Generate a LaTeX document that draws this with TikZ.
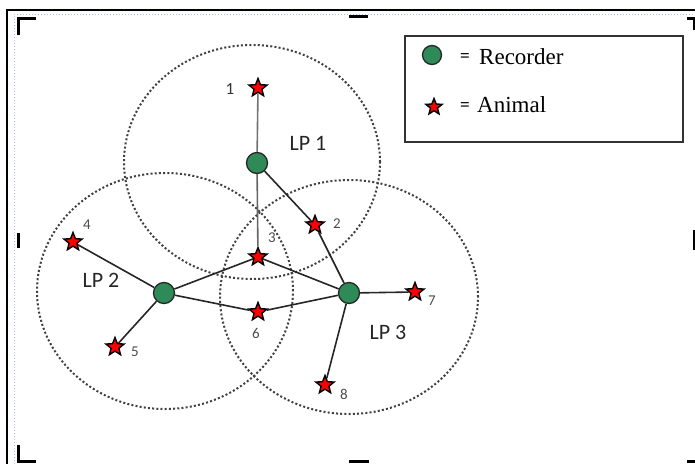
\documentclass[tikz,border=0pt]{standalone}
\usepackage{fontspec}
\setmainfont{Liberation Serif}
\newfontfamily\lpfont{Carlito}
\usetikzlibrary{shapes.geometric}
\definecolor{recgreen}{RGB}{46,139,87}
\definecolor{guideblue}{RGB}{170,190,235}
\begin{document}
\begin{tikzpicture}[x=1pt,y=-1pt]
		\tikzset{recorder/.style = {shape=circle,draw=black!85,fill=recgreen,line width=1.3pt,minimum size=21pt,inner sep=0pt}}
		\tikzset{animal/.style = {shape=star,star points=5,star point ratio=2.3,draw=black,fill=red,line width=1.4pt,minimum size=19pt,inner sep=0pt}}
		\tikzset{link/.style = {draw=black!85,line width=1.6pt}}
		\tikzset{zone/.style = {draw=black!75,line width=2pt,dash pattern=on 2pt off 2.2pt}}
		\tikzset{num/.style = {font=\lpfont\fontsize{15}{17}\selectfont,text=black!70,inner sep=0pt}}
		\tikzset{lp/.style = {font=\lpfont\fontsize{22}{25}\selectfont,text=black!85,inner sep=0pt}}
		\tikzset{crop/.style = {line width=3pt,black}}
		\useasboundingbox (0,0) rectangle (695,463);
		% frame and crop marks
		\draw[line width=1.2pt] (7,10) rectangle (700,470);
		\draw[guideblue,line width=1pt,dotted] (14,470) -- (14,14) -- (695,14);
		\draw[crop] (36,18) -- (18,18) -- (18,35);
		\draw[crop] (349,16) -- (368,16);
		\draw[crop] (687,18) -- (694,18) -- (694,30);
		\draw[crop] (18,233) -- (18,248);
		\draw[crop] (694,230) -- (694,250);
		\draw[crop] (18,445) -- (18,461) -- (36,461);
		\draw[crop] (349,461) -- (369,461);
		\draw[crop] (687,461) -- (695,461);
		% recorders
		\node[recorder] (r1) at (257,163) {};
		\node[recorder] (r2) at (164,293) {};
		\node[recorder] (r3) at (349,293) {};
		% listening zones
		\draw[zone] (252,162) ellipse [x radius=128pt,y radius=117pt];
		\draw[zone] (165,291) ellipse [x radius=128pt,y radius=118pt];
		\draw[zone] (349,297) ellipse [x radius=129pt,y radius=117pt];
		% animals
		\node[animal] (a1) at (258,88) {};
		\node[animal] (a2) at (315,225) {};
		\node[animal] (a3) at (258,257) {};
		\node[animal] (a4) at (73,242) {};
		\node[animal] (a5) at (115,347) {};
		\node[animal] (a6) at (258,312) {};
		\node[animal] (a7) at (415,292) {};
		\node[animal] (a8) at (325,385) {};
		\node[num,font=\lpfont\fontsize{17}{19}\selectfont,text=black!80] (n1) at (230,89) {1};
		\node[num] (n2) at (337,224) {2};
		\node[num] (n3) at (272,238) {3};
		\node[num] (n4) at (87,225) {4};
		\node[num] (n5) at (135,352) {5};
		\node[num] (n6) at (256,333) {6};
		\node[num] (n7) at (432,301) {7};
		\node[num] (n8) at (344,394) {8};
		% zone names
		\node[lp] (lp1) at (308,143) {LP 1};
		\node[lp] (lp2) at (101,280) {LP 2};
		\node[lp] (lp3) at (388,332) {LP 3};
		% links
		\path[link,draw=black!55] (r1) -- (a1);
		\path[link,draw=black!60] (r1) -- (a3);
		\path[link] (r1) -- (a2);
		\path[link] (a2) -- (r3);
		\path[link] (r2) -- (a4);
		\path[link] (r2) -- (a5);
		\path[link] (r2) -- (a3);
		\path[link] (r2) -- (a6);
		\path[link] (a3) -- (r3);
		\path[link] (a6) -- (r3);
		\path[link] (r3) -- (a7);
		\path[link] (r3) -- (a8);
		% legend
		\draw[line width=1.6pt,draw=black!80] (405,36) rectangle (683,142);
		\node[recorder,minimum size=19pt] (keyrec) at (432,55) {};
		\node[animal,minimum size=17pt] (keyani) at (434,107) {};
		\node[font=\bfseries\fontsize{17}{19}\selectfont,inner sep=0pt] (eqrec) at (465,58) {=};
		\node[font=\bfseries\fontsize{17}{19}\selectfont,inner sep=0pt] (eqani) at (465,107) {=};
		\node[font=\fontsize{23}{27}\selectfont,anchor=west,inner sep=0pt] (txtrec) at (479,57) {Recorder};
		\node[font=\fontsize{23}{27}\selectfont,anchor=west,inner sep=0pt] (txtani) at (477,105) {Animal};
	\end{tikzpicture}
\end{document}
